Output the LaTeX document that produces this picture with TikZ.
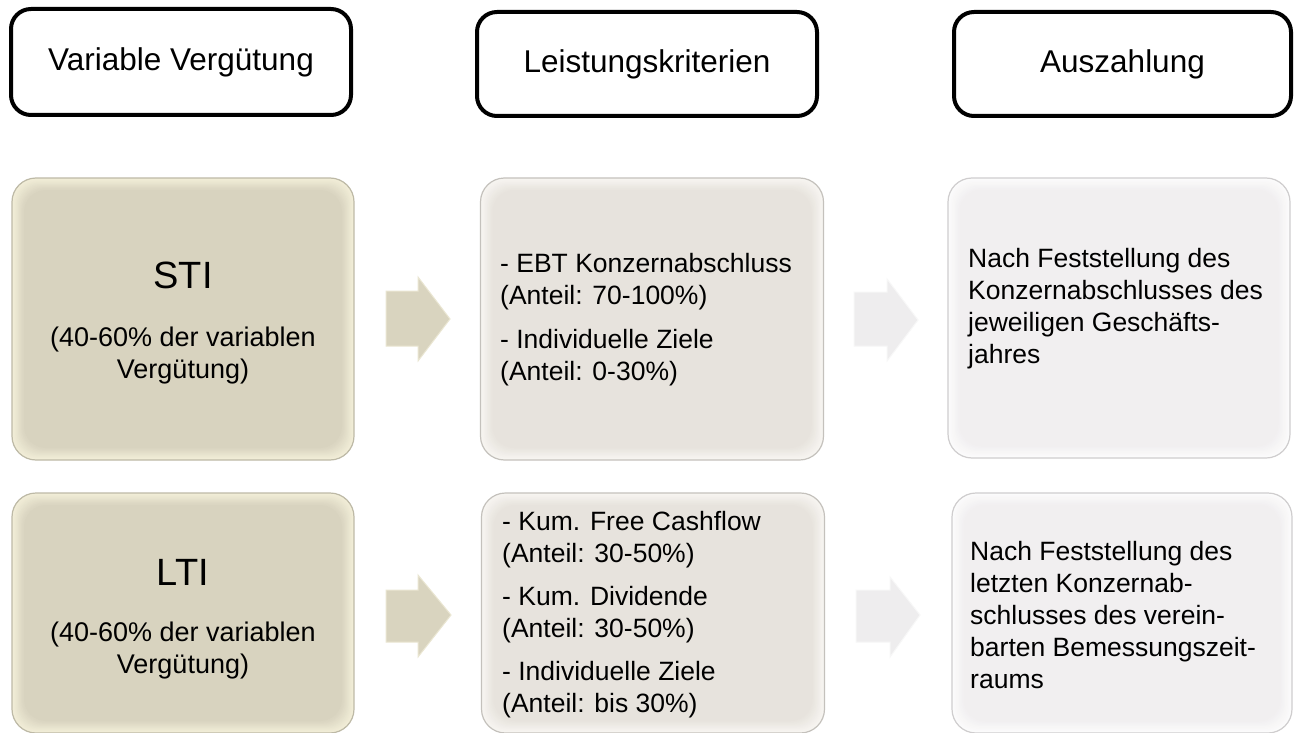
\documentclass[tikz,border=0pt]{standalone}
\usepackage{fontspec}
\setmainfont{Liberation Sans}
\definecolor{beigemain}{HTML}{D8D3BF}
\definecolor{beigeedge}{HTML}{F3EFD9}
\definecolor{beigerim}{HTML}{BDB9A6}
\definecolor{greymain}{HTML}{E7E3DD}
\definecolor{greyedge}{HTML}{F8F6F2}
\definecolor{greyrim}{HTML}{C4C1BC}
\definecolor{whitemain}{HTML}{F1EFF0}
\definecolor{whiteedge}{HTML}{FCFCFC}
\definecolor{whiterim}{HTML}{CFCDCE}
\definecolor{arrowbeige}{HTML}{D9D4BF}
\definecolor{arrowbeigerim}{HTML}{EAE6D2}
\definecolor{arrowwhite}{HTML}{EEEDEE}
\definecolor{arrowwhiterim}{HTML}{F7F7F7}
\newcommand\bevfill[2]{%
  \foreach \i in {0,...,10}{%
    \pgfmathtruncatemacro\p{\i*10}%
    \fill[#2!\p!#1, rounded corners=22pt]
      ([shift={(\i*1.2pt,\i*1.2pt)}]path picture bounding box.south west) rectangle
      ([shift={(-\i*1.2pt,-\i*1.2pt)}]path picture bounding box.north east);
  }}
\tikzset{
  topbox/.style={draw=black, line width=4pt, rounded corners=20pt, fill=white,
    inner sep=0pt, font=\fontsize{31.5}{37}\selectfont},
  beigebox/.style={draw=beigerim, line width=1.2pt, rounded corners=24pt, inner sep=0pt,
    path picture={\bevfill{beigeedge}{beigemain}}},
  greybox/.style={draw=greyrim, line width=1.2pt, rounded corners=24pt, inner sep=0pt,
    path picture={\bevfill{greyedge}{greymain}}},
  whitebox/.style={draw=whiterim, line width=1.2pt, rounded corners=24pt, inner sep=0pt,
    path picture={\bevfill{whiteedge}{whitemain}}},
  bigtxt/.style={inner sep=0pt, font=\fontsize{38}{44}\selectfont},
  subtxt/.style={inner sep=0pt, font=\fontsize{27}{32}\selectfont},
  bodytxt/.style={inner sep=0pt, font=\fontsize{26.5}{32}\selectfont},
  beigearrow/.style={fill=arrowbeige, draw=arrowbeigerim, line width=1pt},
  whitearrow/.style={fill=arrowwhite, draw=arrowwhiterim, line width=1pt}
}
\begin{document}
\begin{tikzpicture}[x=1pt, y=-1pt]
\useasboundingbox[fill=white] (0,0) rectangle (1301,733);

% header boxes
\node[topbox, minimum width=340pt, minimum height=106pt] (h1) at (181,62) {Variable Vergütung};
\node[topbox, minimum width=340pt, minimum height=104pt] (h2) at (647,64) {Leistungskriterien};
\node[topbox, minimum width=337pt, minimum height=104pt] (h3) at (1122.5,64) {Auszahlung};

% row 1
\node[beigebox, minimum width=342pt, minimum height=282pt] (sti) at (183,319) {};
\node[greybox, minimum width=343pt, minimum height=282pt] (k1) at (652,319) {};
\node[whitebox, minimum width=342pt, minimum height=280pt] (p1) at (1119,318) {};

% row 2
\node[beigebox, minimum width=342pt, minimum height=240pt] (lti) at (183,613) {};
\node[greybox, minimum width=343pt, minimum height=240pt] (k2) at (653,613) {};
\node[whitebox, minimum width=340pt, minimum height=240pt] (p2) at (1122,613) {};

% arrows row 1
\path[beigearrow] (386,291) -- (418,291) -- (418,277) -- (450,319) -- (418,361) -- (418,346) -- (386,346) -- cycle;
\path[whitearrow] (854,292) -- (887,292) -- (887,279) -- (918,320) -- (887,361) -- (887,346) -- (854,346) -- cycle;
% arrows row 2
\path[beigearrow] (386,590) -- (418,590) -- (418,575) -- (451,615) -- (418,657) -- (418,642) -- (386,642) -- cycle;
\path[whitearrow] (856,590) -- (890,590) -- (890,577) -- (920,615) -- (890,657) -- (890,642) -- (856,642) -- cycle;

% texts row 1
\node[bigtxt] (stiT) at (183,275) {STI};
\node[subtxt, align=center] (stiS) at (183,356) {(40-60\% der variablen\\Vergütung)};
\node[bodytxt, align=left, anchor=west] (k1T) at (500,320)
  {- EBT Konzernabschluss\\(Anteil: 70-100\%)\\[12pt]- Individuelle Ziele\\(Anteil: 0-30\%)};
\node[bodytxt, align=left, anchor=west] (p1T) at (968,309)
  {Nach Feststellung des\\Konzernabschlusses des\\jeweiligen Geschäfts-\\jahres};

% texts row 2
\node[bigtxt] (ltiT) at (183,572) {LTI};
\node[subtxt, align=center] (ltiS) at (183,651) {(40-60\% der variablen\\Vergütung)};
\node[bodytxt, align=left, anchor=west] (k2T) at (502,615)
  {- Kum. Free Cashflow\\(Anteil: 30-50\%)\\[11pt]- Kum. Dividende\\(Anteil: 30-50\%)\\[11pt]- Individuelle Ziele\\(Anteil: bis 30\%)};
\node[bodytxt, align=left, anchor=west] (p2T) at (970,615)
  {Nach Feststellung des\\letzten Konzernab-\\schlusses des verein-\\barten Bemessungszeit-\\raums};
\end{tikzpicture}
\end{document}
